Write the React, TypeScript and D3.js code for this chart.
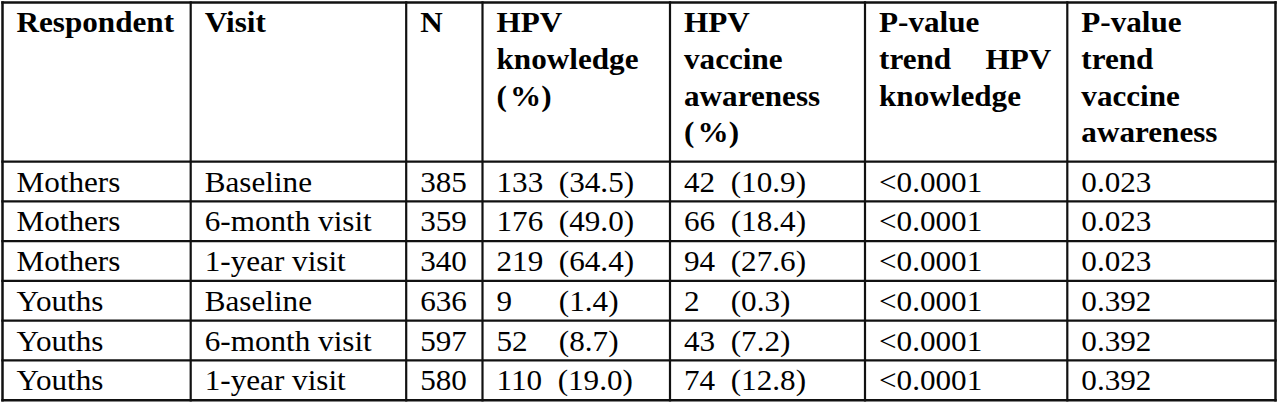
import React from "react";
import * as d3 from "d3";

// ---- data ----
const respondents = ["Mothers", "Mothers", "Mothers", "Youths", "Youths", "Youths"];
const visits = ["Baseline", "6-month visit", "1-year visit", "Baseline", "6-month visit", "1-year visit"];
const nValues = [385, 359, 340, 636, 597, 580];
const knowledgeCounts = [133, 176, 219, 9, 52, 110];
const knowledgePct = [34.5, 49.0, 64.4, 1.4, 8.7, 19.0];
const vaccineCounts = [42, 66, 94, 2, 43, 74];
const vaccinePct = [10.9, 18.4, 27.6, 0.3, 7.2, 12.8];
const pTrendKnowledge = ["<0.0001", "<0.0001", "<0.0001", "<0.0001", "<0.0001", "<0.0001"];
const pTrendVaccine = ["0.023", "0.023", "0.023", "0.392", "0.392", "0.392"];

const headerLines: string[][] = [
  ["Respondent"],
  ["Visit"],
  ["N"],
  ["HPV", "knowledge", "(%)"],
  ["HPV", "vaccine", "awareness", "(%)"],
  ["P-value", "trend|HPV", "knowledge"],
  ["P-value", "trend", "vaccine", "awareness"],
];

// ---- layout ----
const W = 1280;
const H = 405;
const colEdges = [2.5, 190.7, 406.2, 482.5, 670, 865, 1067.3, 1275.5];
const tableTop = 2.5;
const headerBottom = 161.7;
const tableBottom = 400.2;
const fontSize = 29;
const sx = 1.075;
const pad = 14;
const headerBase = 32;
const headerStep = 36.8;
const rowBaseOffset = 30;

const fmt = d3.format(".1f");
function cell(count: number, pct: number, maxDigits: number) {
  const digits = String(count).length;
  const spaces = " ".repeat(2 + 2 * (maxDigits - digits));
  return `${count}${spaces}(${fmt(pct)})`;
}

export default function App() {
  const nRows = respondents.length;
  const y = d3
    .scaleLinear()
    .domain([0, nRows])
    .range([headerBottom, tableBottom]);

  const rows = d3.range(nRows).map((i) => [
    respondents[i],
    visits[i],
    String(nValues[i]),
    cell(knowledgeCounts[i], knowledgePct[i], 3),
    cell(vaccineCounts[i], vaccinePct[i], 2),
    pTrendKnowledge[i],
    pTrendVaccine[i],
  ]);

  const font = "'Liberation Serif', 'Times New Roman', serif";

  const txt = (
    key: string,
    x: number,
    yy: number,
    s: string,
    bold: boolean,
    anchor: "start" | "end" = "start"
  ) => (
    <text
      key={key}
      transform={`translate(${x},${yy}) scale(${sx},1)`}
      fontFamily={font}
      fontSize={fontSize}
      fontWeight={bold ? "bold" : "normal"}
      textAnchor={anchor}
      fill="#000"
      style={{ whiteSpace: "pre" }}
      xmlSpace="preserve"
    >
      {s === "(%)" ? (
        <>
          <tspan>(</tspan>
          <tspan dx={3}>%</tspan>
          <tspan>)</tspan>
        </>
      ) : (
        s
      )}
    </text>
  );

  const lineColor = "#111";

  return (
    <svg
      width={W}
      height={H}
      viewBox={`0 0 ${W} ${H}`}
      style={{ position: "absolute", left: 0, top: 0, background: "#fff" }}
    >
      <rect x={0} y={0} width={W} height={H} fill="#fff" />
      {/* header texts */}
      {headerLines.map((lines, c) =>
        lines.map((ln, k) => {
          const yy = headerBase + k * headerStep;
          const x0 = colEdges[c] + pad;
          if (ln.includes("|")) {
            const [a, b] = ln.split("|");
            return (
              <g key={`h${c}-${k}`}>
                {txt(`h${c}-${k}a`, x0, yy, a, true)}
                {txt(`h${c}-${k}b`, colEdges[c + 1] - pad - 2, yy, b, true, "end")}
              </g>
            );
          }
          return txt(`h${c}-${k}`, x0, yy, ln, true);
        })
      )}
      {/* body texts */}
      {rows.map((r, i) =>
        r.map((s, c) => txt(`r${i}-${c}`, colEdges[c] + pad, y(i) + rowBaseOffset, s, false))
      )}
      {/* horizontal lines */}
      {[tableTop, ...d3.range(nRows + 1).map((i) => y(i))].map((yy, i) => (
        <line
          key={`hl${i}`}
          x1={colEdges[0] - 1.2}
          x2={colEdges[colEdges.length - 1] + 1.2}
          y1={yy}
          y2={yy}
          stroke={lineColor}
          strokeWidth={i === 0 || i === nRows + 1 ? 2.5 : 2.2}
        />
      ))}
      {/* vertical lines */}
      {colEdges.map((xx, i) => (
        <line
          key={`vl${i}`}
          x1={xx}
          x2={xx}
          y1={tableTop - 1.2}
          y2={tableBottom + 1.2}
          stroke={lineColor}
          strokeWidth={i === 0 || i === colEdges.length - 1 ? 2.5 : 2.2}
        />
      ))}
    </svg>
  );
}
